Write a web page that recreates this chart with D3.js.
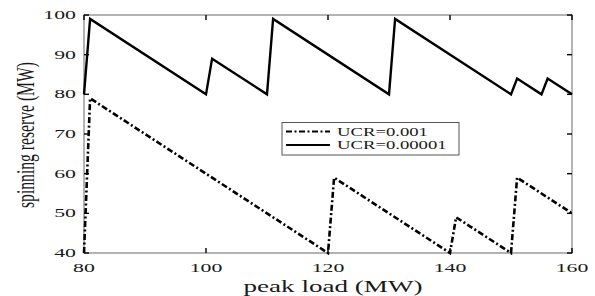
<!DOCTYPE html>
<html><head><meta charset="utf-8">
<script src="https://cdn.jsdelivr.net/npm/d3@7"></script>
<style>
html,body{margin:0;padding:0;background:#fff;}
svg{display:block;}
text{font-family:"Liberation Serif","Times New Roman",serif;fill:#1a1a1a;}
</style></head>
<body>
<svg id="chart" width="595" height="296"></svg>
<script>
// ---- data ----
const seriesNames = ["UCR=0.001", "UCR=0.00001"];
const loadUCR001 = [80, 81, 120, 121, 140, 141, 150, 151, 160];
const reserveUCR001 = [40, 79, 40, 59, 40, 49, 40, 59, 50];
const loadUCR00001 = [80, 81, 100, 101, 110, 111, 130, 131, 150, 151, 155, 156, 160];
const reserveUCR00001 = [80, 99, 80, 89, 80, 99, 80, 99, 80, 84, 80, 84, 80];
const xTicks = [80, 100, 120, 140, 160];
const yTicks = [40, 50, 60, 70, 80, 90, 100];
const xLabel = "peak load (MW)";
const yLabel = "spinning reserve (MW)";

// ---- layout ----
const svg = d3.select("#chart");
const L = 84, R = 572, T = 15, B = 253;
const x = d3.scaleLinear().domain([80, 160]).range([L, R]);
const y = d3.scaleLinear().domain([40, 100]).range([B, T]);

// measure helper
function measure(str, fs) {
  const t = svg.append("text").attr("font-size", fs).text(str);
  const w = t.node().getComputedTextLength();
  t.remove();
  return w;
}
const tickFS = 11.5;
const tickSX = 32.7 / measure("100", tickFS);
const xlabFS = 16;
const xlabSX = 179 / measure(xLabel, xlabFS);
const ylabFS = 15.6 * 146 / measure(yLabel, 15.6);
const legFS = 12.8;
const legSX = 91 / measure(seriesNames[0], legFS);

// box
svg.append("rect").attr("x", L).attr("y", T).attr("width", R - L).attr("height", B - T)
  .attr("fill", "none").attr("stroke", "#9a9a9a").attr("stroke-width", 1.5);

// ticks (inward, mirrored)
const tk = 5;
const tg = svg.append("g").attr("stroke", "#000").attr("stroke-width", 1.4);
xTicks.forEach(v => {
  tg.append("line").attr("x1", x(v)).attr("x2", x(v)).attr("y1", B).attr("y2", B - tk);
  tg.append("line").attr("x1", x(v)).attr("x2", x(v)).attr("y1", T).attr("y2", T + tk);
});
yTicks.forEach(v => {
  tg.append("line").attr("x1", L).attr("x2", L + tk).attr("y1", y(v)).attr("y2", y(v));
  tg.append("line").attr("x1", R).attr("x2", R - tk).attr("y1", y(v)).attr("y2", y(v));
});

// tick labels
xTicks.forEach(v => {
  svg.append("g").attr("transform", `translate(${x(v)},${271.5}) scale(${tickSX},1)`)
    .append("text").attr("text-anchor", "middle").attr("font-size", tickFS).text(v);
});
yTicks.forEach(v => {
  svg.append("g").attr("transform", `translate(76,${y(v)}) scale(${tickSX},1)`)
    .append("text").attr("text-anchor", "end").attr("dy", "0.36em").attr("font-size", tickFS).text(v);
});

// axis labels
svg.append("g").attr("transform", `translate(333,292) scale(${xlabSX},1)`)
  .append("text").attr("text-anchor", "middle").attr("font-size", xlabFS).text(xLabel);
svg.append("g").attr("transform", `translate(34,135) scale(1.55,1) rotate(-90)`)
  .append("text").attr("text-anchor", "middle").attr("font-size", ylabFS).text(yLabel);

// lines
const line = d3.line().x(d => x(d[0])).y(d => y(d[1]));
const d1 = loadUCR001.map((v, i) => [v, reserveUCR001[i]]);
const d2 = loadUCR00001.map((v, i) => [v, reserveUCR00001[i]]);
const dashDot = "6,2.5,2,2.5";
svg.append("path").attr("d", line(d1)).attr("fill", "none").attr("stroke", "#000")
  .attr("stroke-width", 2.6).attr("stroke-dasharray", dashDot).attr("stroke-linejoin", "miter");
svg.append("path").attr("d", line(d2)).attr("fill", "none").attr("stroke", "#000")
  .attr("stroke-width", 2.4).attr("stroke-linejoin", "miter");

// legend
const lg = svg.append("g");
lg.append("rect").attr("x", 282).attr("y", 122.5).attr("width", 177).attr("height", 32.5)
  .attr("fill", "#fff").attr("stroke", "#555").attr("stroke-width", 1);
const rows = [{ name: seriesNames[0], dash: dashDot, yy: 131.5 }, { name: seriesNames[1], dash: null, yy: 145 }];
rows.forEach(r => {
  const ln = lg.append("line").attr("x1", 286).attr("x2", 330).attr("y1", r.yy).attr("y2", r.yy)
    .attr("stroke", "#000").attr("stroke-width", 2.2);
  if (r.dash) ln.attr("stroke-dasharray", r.dash);
  lg.append("g").attr("transform", `translate(337,${r.yy}) scale(${legSX},1)`)
    .append("text").attr("dy", "0.35em").attr("font-size", legFS).text(r.name);
});
</script>
</body></html>
